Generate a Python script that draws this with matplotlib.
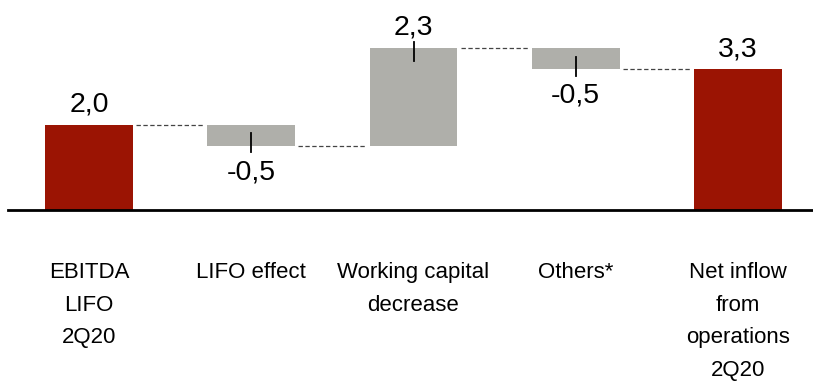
import matplotlib.pyplot as plt
from matplotlib.lines import Line2D

plt.rcParams['font.family'] = ['Liberation Sans Narrow', 'Liberation Sans', 'DejaVu Sans']

# waterfall data (billions)
categories = ['EBITDA\nLIFO\n2Q20', 'LIFO effect', 'Working capital\ndecrease',
              'Others*', 'Net inflow\nfrom\noperations\n2Q20']
values = [2.0, -0.5, 2.3, -0.5, 3.3]
is_total = [True, False, False, False, True]

red = '#9b1403'
grey = '#afafaa'

fig = plt.figure(figsize=(8.13, 3.81), dpi=100)
ax = fig.add_axes([0, 0, 1, 1])
scale = 42.6
ax.set_xlim(-89 / 162.25, (813 - 89) / 162.25)
ax.set_ylim(-(381 - 210) / scale, 210 / scale)
ax.axis('off')

width = 0.542
running = 0.0
tops = []
for i, (v, tot) in enumerate(zip(values, is_total)):
    if tot:
        bottom, height = 0, v
        end = v
    else:
        bottom, height = running, v
        end = running + v
    ax.bar(i, height, bottom=bottom, width=width, color=red if tot else grey,
           edgecolor='none', zorder=2)
    running = end
    tops.append(end)

    fmt = f'{abs(v):.1f}'.replace('.', ',')
    label = fmt if v >= 0 else '-' + fmt
    if v >= 0:
        ax.annotate(label, (i, end), xytext=(0, 9.5), textcoords='offset points',
                    ha='center', va='baseline', fontsize=20.5)
    else:
        ax.annotate(label, (i, end), xytext=(0, -9.5), textcoords='offset points',
                    ha='center', va='top', fontsize=20.5)

    # small leader tick at the end of each step bar
    if not tot:
        s = 1 if v > 0 else -1
        ax.plot([i, i], [end + s * 0.15, end - s * 0.3], color='black', lw=1.3, zorder=3)

# dashed connectors between bars
for i in range(len(values) - 1):
    ax.plot([i + width / 2 + 0.02, i + 1 - width / 2 - 0.02], [tops[i], tops[i]],
            color='#444444', lw=0.9, ls=(0, (3.5, 2)), zorder=1)

# baseline
fig.add_artist(Line2D([8 / 813, 1], [1 - 210 / 381] * 2, color='black', lw=2))

# category labels
for i, c in enumerate(categories):
    ax.text(i, -(262 - 210) / scale, c, ha='center', va='top', fontsize=16,
            linespacing=1.72)

fig.savefig('out.png', dpi=100)
